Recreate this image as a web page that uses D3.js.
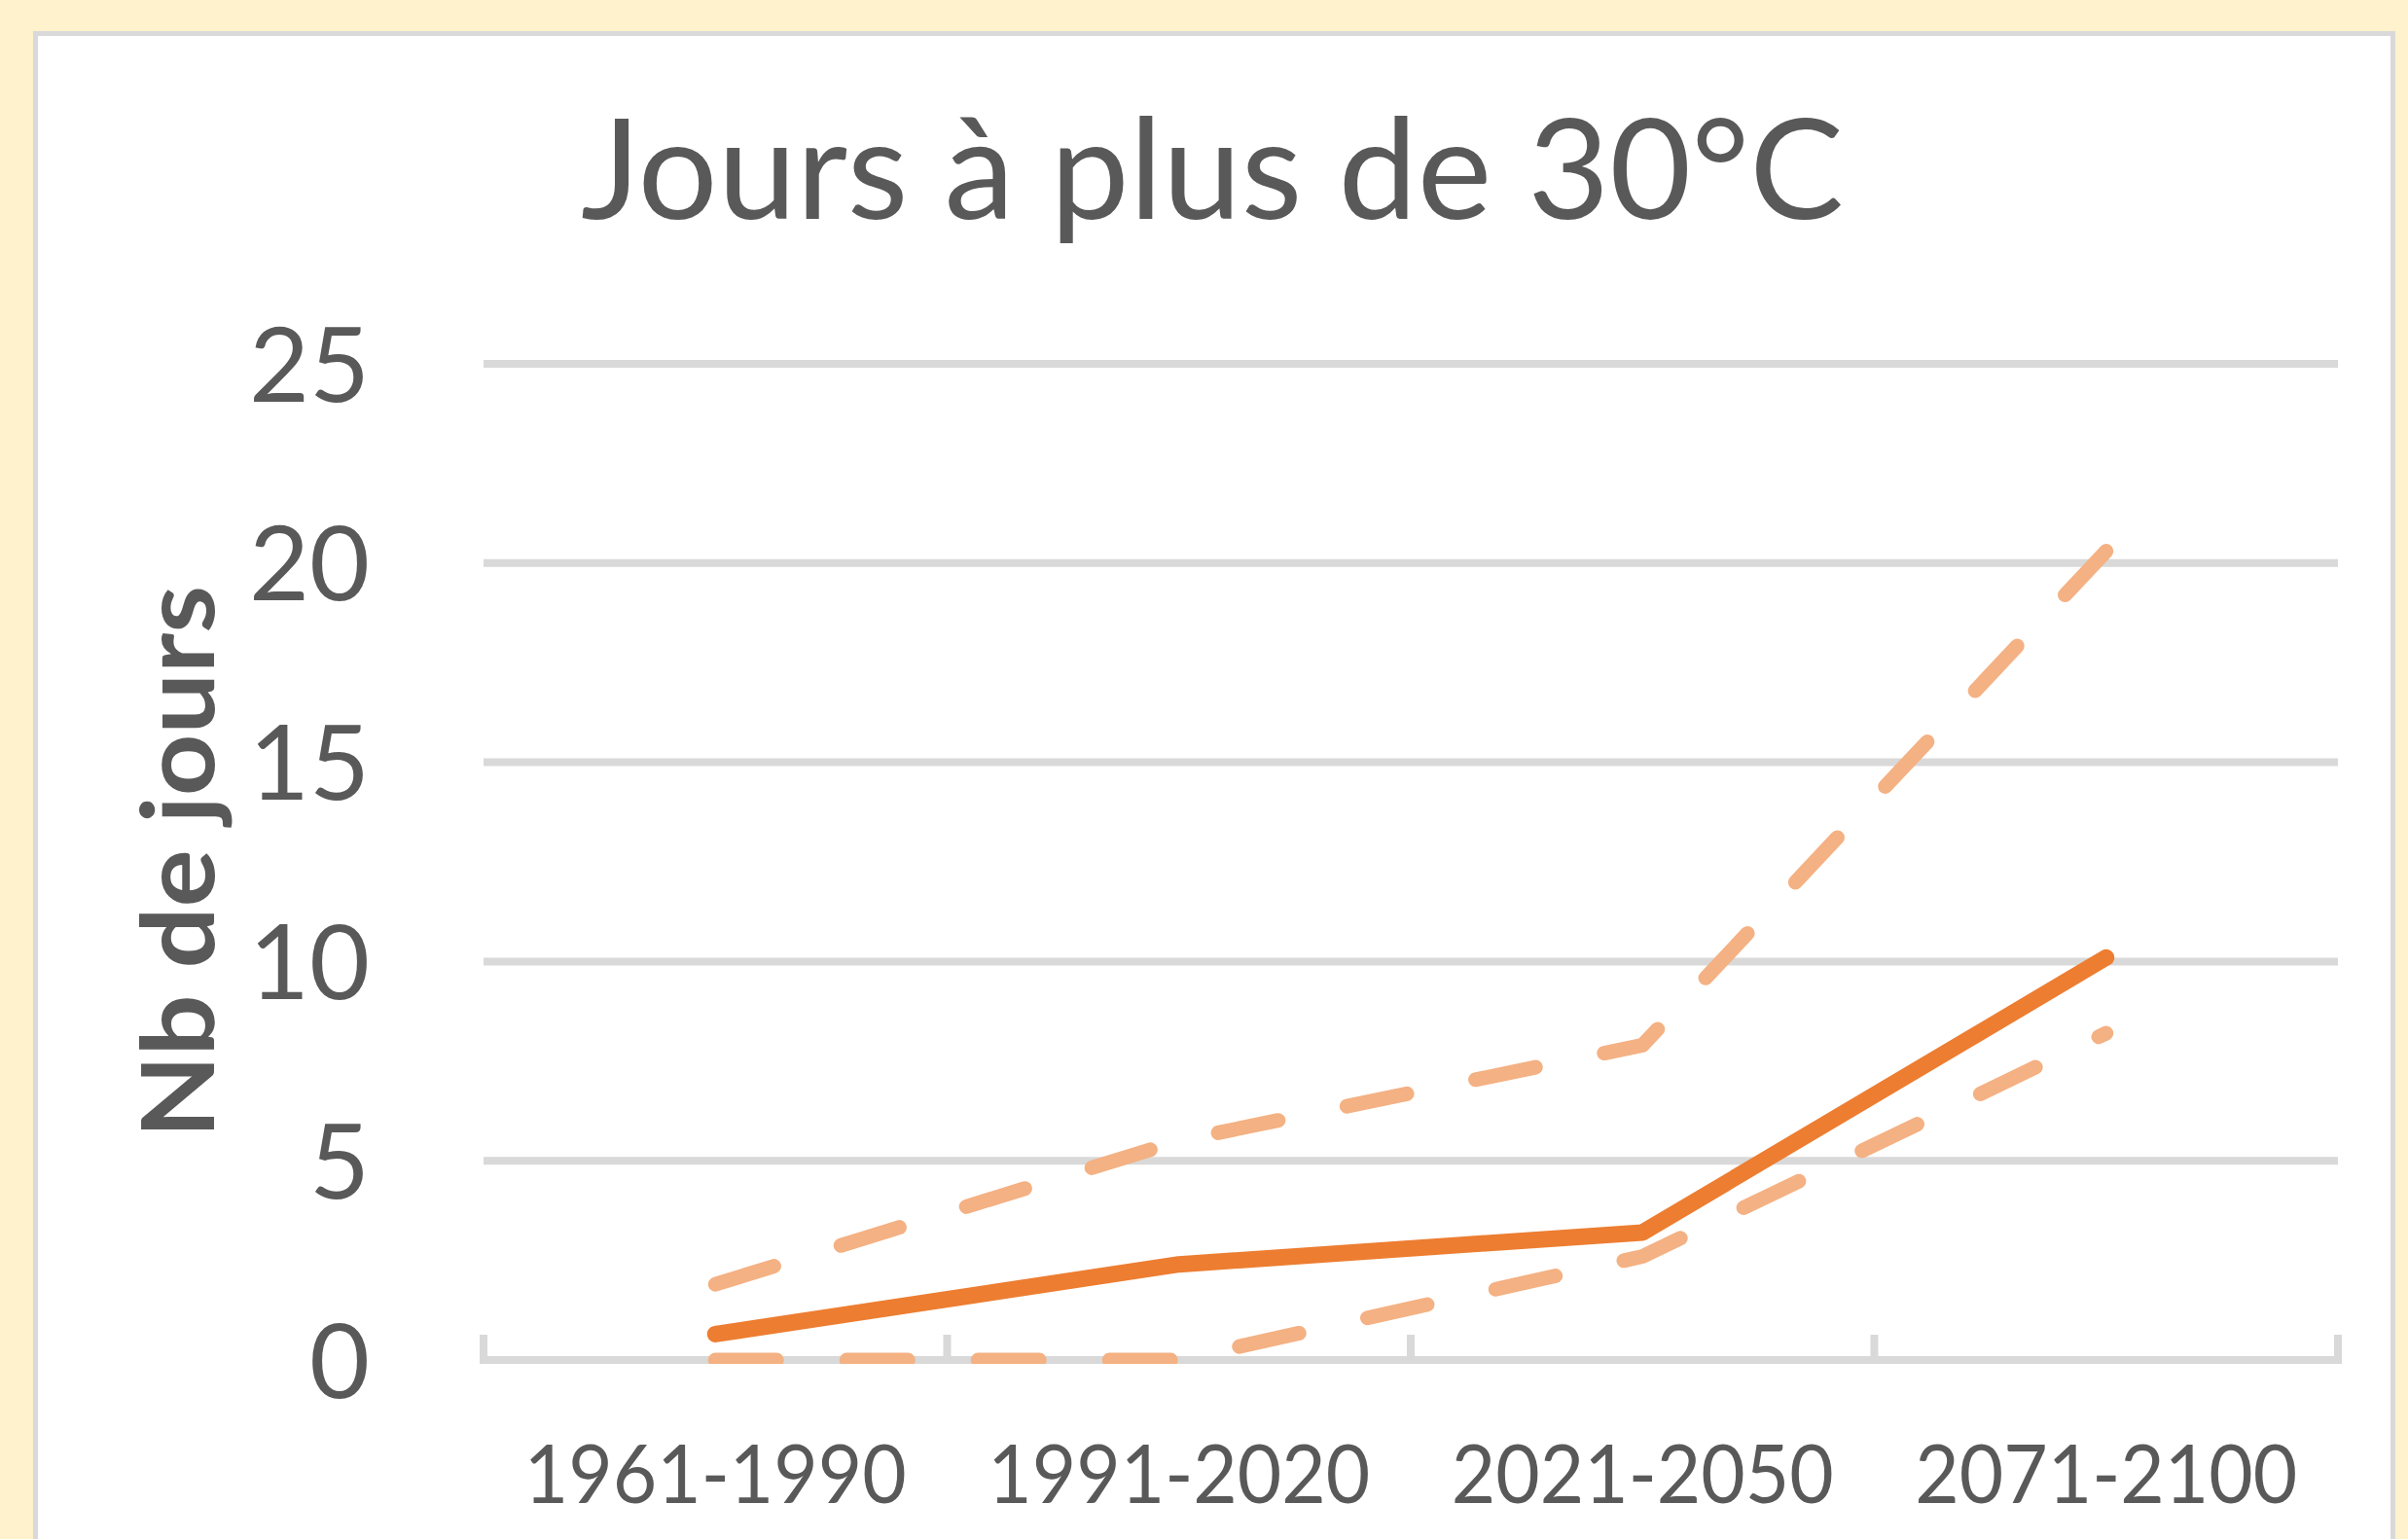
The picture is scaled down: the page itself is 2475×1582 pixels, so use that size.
<!DOCTYPE html>
<html>
<head>
<meta charset="utf-8">
<script src="https://cdn.jsdelivr.net/npm/d3@7"></script>
<style>
  html, body { margin: 0; padding: 0; background: #FFF2CC; }
  svg { display: block; }
</style>
</head>
<body>
<svg id="chart" width="2475" height="1582"></svg>
<script>
// ---- data ----
const chartTitle = "Jours à plus de 30°C";
const yAxisTitle = "Nb de jours";
const categories = ["1961-1990", "1991-2020", "2021-2050", "2071-2100"];
const meanValues  = [0.65, 2.4, 3.2, 10.1];
const upperValues = [1.9, 5.5, 7.9, 20.3];
const lowerValues = [0, 0, 2.6, 8.2];
const yTicks = [0, 5, 10, 15, 20, 25];

// ---- layout ----
const W = 2475, H = 1582;
const plot = { left: 497, right: 2403, top: 374, bottom: 1398 };
const textColor = "#595959";
const gridColor = "#D9D9D9";
const font = "Lato, 'Open Sans', sans-serif";

const svg = d3.select("#chart");

svg.append("rect").attr("width", W).attr("height", H).attr("fill", "#FFF2CC");
svg.append("rect")
  .attr("x", 36.5).attr("y", 34.5)
  .attr("width", 2423).attr("height", 1620)
  .attr("fill", "#FFFFFF")
  .attr("stroke", gridColor).attr("stroke-width", 5);

const x = d3.scaleBand().domain(categories).range([plot.left, plot.right]).paddingInner(0).paddingOuter(0);
const y = d3.scaleLinear().domain([0, 25]).range([plot.bottom, plot.top]);
const cx = c => x(c) + x.bandwidth() / 2;

// gridlines
svg.append("g").selectAll("line")
  .data(yTicks.filter(v => v > 0))
  .join("line")
  .attr("x1", plot.left).attr("x2", plot.right)
  .attr("y1", d => y(d)).attr("y2", d => y(d))
  .attr("stroke", gridColor).attr("stroke-width", 8);

// category axis
const boundaries = categories.map(c => x(c)).concat([x.range()[1]]);
svg.append("line")
  .attr("x1", plot.left).attr("x2", plot.right)
  .attr("y1", y(0)).attr("y2", y(0))
  .attr("stroke", gridColor).attr("stroke-width", 8)
  .attr("stroke-linecap", "square");
svg.append("g").selectAll("line")
  .data(boundaries)
  .join("line")
  .attr("x1", d => d).attr("x2", d => d)
  .attr("y1", y(0)).attr("y2", y(0) - 26)
  .attr("stroke", gridColor).attr("stroke-width", 8);

// y tick labels
svg.append("g").selectAll("text")
  .data(yTicks)
  .join("text")
  .attr("x", 380).attr("y", d => y(d))
  .attr("dy", "0.36em")
  .attr("text-anchor", "end")
  .attr("font-family", font).attr("font-size", 107)
  .attr("fill", textColor)
  .text(d => d);

// x tick labels
svg.append("g").selectAll("text")
  .data(categories)
  .join("text")
  .attr("x", d => cx(d)).attr("y", 1545)
  .attr("text-anchor", "middle")
  .attr("font-family", font).attr("font-size", 84)
  .attr("textLength", 393).attr("lengthAdjust", "spacingAndGlyphs")
  .attr("fill", textColor)
  .text(d => d);

// title
svg.append("text")
  .attr("x", 1246).attr("y", 225)
  .attr("text-anchor", "middle")
  .attr("font-family", font).attr("font-size", 144)
  .attr("textLength", 1298).attr("lengthAdjust", "spacingAndGlyphs")
  .attr("fill", textColor)
  .text(chartTitle);

// y axis title
svg.append("text")
  .attr("transform", `translate(220, ${(plot.top + plot.bottom) / 2}) rotate(-90)`)
  .attr("text-anchor", "middle")
  .attr("font-family", font).attr("font-size", 103).attr("font-weight", 700)
  .attr("textLength", 568).attr("lengthAdjust", "spacingAndGlyphs")
  .attr("fill", textColor)
  .text(yAxisTitle);

// series
svg.append("defs").append("clipPath").attr("id", "plotClip")
  .append("rect")
  .attr("x", plot.left - 20).attr("y", 0)
  .attr("width", plot.right - plot.left + 40).attr("height", plot.bottom + 4);

const line = d3.line()
  .x((d, i) => cx(categories[i]))
  .y(d => y(d));

const series = svg.append("g").attr("clip-path", "url(#plotClip)");

[upperValues, lowerValues].forEach(vals => {
  series.append("path")
    .datum(vals)
    .attr("d", line)
    .attr("fill", "none")
    .attr("stroke", "#F4B183")
    .attr("stroke-width", 15)
    .attr("stroke-dasharray", "63,72")
    .attr("stroke-linecap", "round")
    .attr("stroke-linejoin", "round");
});

series.append("path")
  .datum(meanValues)
  .attr("d", line)
  .attr("fill", "none")
  .attr("stroke", "#ED7D31")
  .attr("stroke-width", 17)
  .attr("stroke-linecap", "round")
  .attr("stroke-linejoin", "round");
</script>
</body>
</html>
